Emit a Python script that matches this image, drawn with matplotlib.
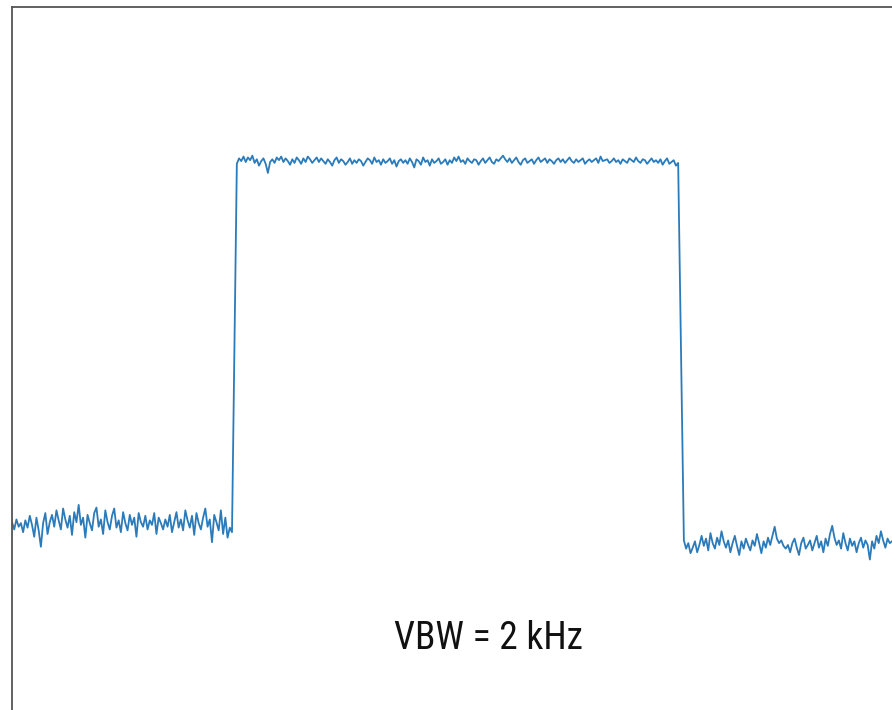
import numpy as np
import matplotlib
matplotlib.use("Agg")
import matplotlib.pyplot as plt

# ── 데이터 (dB, 그림에서 읽은 값) ─────────────────
# 대역 밖 (왼쪽) 노이즈 플로어
left_level = [-59.7, -60.5, -59.4, -60.2, -59.8, -60.8, -59.5, -60.3, -59.0, -60.0,
              -61.3, -59.2, -60.6, -62.4, -59.8, -58.7, -61.0, -59.7, -58.9, -60.2,
              -58.4, -59.5, -60.5, -58.2, -59.4, -60.3, -59.0, -61.1, -58.6, -59.7,
              -57.8, -60.0, -59.2, -61.4, -58.9, -59.8, -60.6, -58.7, -58.1, -60.2,
              -59.4, -61.0, -58.4, -59.7, -60.5, -59.0, -58.2, -60.3, -59.5, -60.8,
              -58.6, -59.8, -60.6, -58.9, -60.0, -59.2, -61.3, -58.7, -59.7, -60.2,
              -59.0, -60.5, -59.5, -60.0, -58.7, -61.0, -59.2, -59.8, -60.5, -59.4,
              -60.2, -58.9, -60.8, -59.7, -58.6, -60.3, -59.4, -60.6, -58.4, -59.5,
              -60.3, -59.0, -61.1, -58.7, -59.8, -60.5, -59.2, -58.2, -60.2, -59.4,
              -61.9, -58.9, -59.7, -60.6, -58.4, -61.0, -59.2, -61.4, -60.3, -60.8]

# 대역 안 (신호)
top_level = [-20.4, -19.8, -20.1, -19.6, -20.2, -19.7, -20.0, -19.5, -20.3, -19.9,
             -20.6, -20.1, -19.8, -20.4, -21.4, -20.2, -19.9, -20.3, -19.7, -20.0,
             -19.6, -20.2, -19.8, -20.1, -20.5, -19.9, -20.3, -19.7, -20.0, -20.4,
             -19.8, -20.2, -19.6, -19.9, -20.3, -20.0, -19.7, -20.2, -19.8, -20.1,
             -20.4, -19.9, -20.2, -20.6, -20.0, -19.7, -20.3, -19.9, -20.1, -20.5,
             -20.2, -19.8, -20.4, -20.0, -20.3, -19.9, -20.1, -20.6, -20.2, -19.8,
             -20.0, -20.4, -19.7, -20.2, -20.0, -20.5, -19.9, -20.3, -20.1, -19.8,
             -20.4, -20.0, -20.7, -20.1, -19.9, -20.3, -20.0, -20.4, -19.8, -20.2,
             -20.8, -19.9, -20.1, -20.5, -19.7, -20.2, -20.0, -20.6, -19.9, -20.3,
             -20.1, -19.8, -20.4, -20.2, -19.9, -20.5, -20.0, -20.3, -19.7, -20.1,
             -19.6, -20.2, -20.0, -20.4, -19.8, -20.1, -20.3, -19.9, -20.0, -20.5,
             -20.1, -19.8, -20.3, -20.0, -19.7, -20.2, -20.4, -19.9, -20.1, -19.8,
             -19.5, -19.9, -20.2, -19.8, -20.3, -20.0, -19.7, -20.2, -20.5, -20.0,
             -19.8, -20.3, -20.1, -19.9, -20.4, -20.0, -19.7, -20.2, -20.0, -19.8,
             -20.3, -19.9, -20.1, -20.4, -20.0, -19.8, -20.2, -19.9, -20.3, -20.0,
             -19.7, -20.1, -20.3, -19.9, -20.2, -20.0, -19.8, -20.4, -20.1, -19.9,
             -20.2, -20.0, -19.8, -20.3, -19.6, -20.1, -20.0, -19.9, -20.3, -20.1,
             -19.8, -20.2, -20.0, -20.4, -19.9, -20.1, -20.3, -19.8, -20.0, -20.2,
             -19.7, -20.1, -20.3, -19.9, -20.0, -20.4, -20.1, -19.8, -20.2, -20.0,
             -20.3, -19.9, -20.5, -20.1, -19.8, -20.4, -20.2, -20.0, -20.6, -20.3]

# 대역 밖 (오른쪽) 노이즈 플로어
right_level = [-61.7, -62.6, -62.0, -63.1, -62.5, -61.8, -63.0, -62.2, -61.2, -62.3,
               -61.5, -62.8, -60.9, -62.0, -62.6, -61.4, -62.2, -60.7, -61.8, -62.5,
               -61.7, -63.0, -62.0, -61.2, -62.3, -63.3, -61.8, -62.6, -61.5, -62.2,
               -62.8, -61.7, -62.3, -61.0, -62.0, -63.1, -61.8, -62.5, -61.4, -62.2,
               -61.2, -60.2, -61.5, -62.0, -61.7, -62.3, -62.6, -62.2, -63.0, -62.0,
               -61.5, -62.5, -63.3, -62.0, -61.4, -62.6, -62.2, -61.7, -62.8, -62.0,
               -61.2, -62.5, -61.8, -63.0, -61.5, -62.3, -61.0, -60.1, -61.4, -62.2,
               -61.7, -62.6, -60.9, -62.0, -62.8, -61.5, -62.3, -61.8, -63.0, -62.0,
               -61.4, -62.5, -61.7, -62.2, -63.8, -61.8, -62.6, -61.2, -62.0, -60.7,
               -61.7, -62.5, -61.5, -62.0, -61.8]

label = "VBW = 2 kHz"

# 주파수 축 (임의 단위 0~100)
f_left = np.linspace(0.0, 25.0, len(left_level))
f_top = np.linspace(25.55, 75.7, len(top_level))
f_right = np.linspace(76.35, 100.0, len(right_level))

freq = np.concatenate([f_left, f_top, f_right])
level = np.concatenate([left_level, top_level, right_level])

# ── 시각화 ───────────────────────────────────────
fig = plt.figure(figsize=(8.92, 7.10), dpi=100)
ax = fig.add_axes([12 / 892, 0.0, 880 / 892, 703 / 710])

ax.plot(freq, level, color="#2b7bba", linewidth=1.3)

ax.set_xlim(0, 100)
ax.set_ylim(-80.3, -3.2)
ax.set_xticks([])
ax.set_yticks([])
for side in ["right", "bottom"]:
    ax.spines[side].set_visible(False)
for side in ["left", "top"]:
    ax.spines[side].set_color("#555555")
    ax.spines[side].set_linewidth(1.3)

ax.text(0.542, 0.102, label, transform=ax.transAxes, ha="center", va="center",
        fontsize=27, color="#111111",
        family=["Liberation Sans Narrow", "Roboto Condensed", "DejaVu Sans"],
        fontstretch="condensed")

fig.savefig("out.png", dpi=100)
